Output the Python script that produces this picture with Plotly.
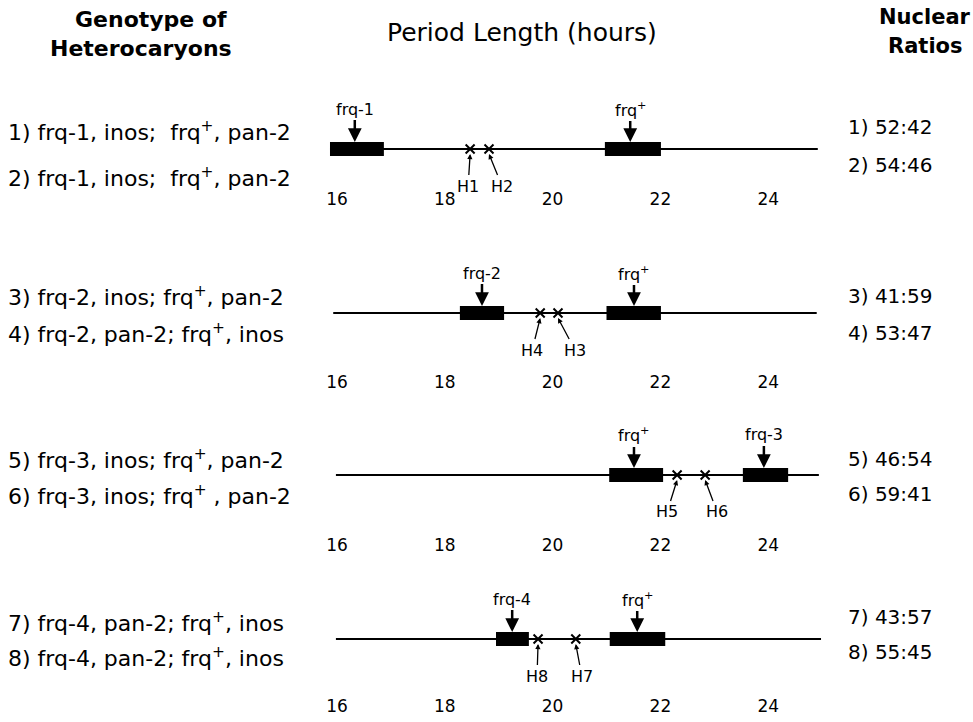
import plotly.graph_objects as go

# ---------------- data ----------------
genotypes = [
    "1) frq-1, inos;  frq<sup>+</sup>, pan-2",
    "2) frq-1, inos;  frq<sup>+</sup>, pan-2",
    "3) frq-2, inos; frq<sup>+</sup>, pan-2",
    "4) frq-2, pan-2; frq<sup>+</sup>, inos",
    "5) frq-3, inos; frq<sup>+</sup>, pan-2",
    "6) frq-3, inos; frq<sup>+</sup> , pan-2",
    "7) frq-4, pan-2; frq<sup>+</sup>, inos",
    "8) frq-4, pan-2; frq<sup>+</sup>, inos",
]
ratios = ["1) 52:42", "2) 54:46", "3) 41:59", "4) 53:47",
          "5) 46:54", "6) 59:41", "7) 43:57", "8) 55:45"]

line_start = [15.87, 15.93, 15.98, 15.98]
line_end = [24.92, 24.90, 24.94, 24.98]

mutant_name = ["frq-1", "frq-2", "frq-3", "frq-4"]
mutant_lo = [15.87, 18.28, 23.53, 18.95]
mutant_hi = [16.87, 19.10, 24.37, 19.56]
mutant_mark = [16.33, 18.69, 23.92, 19.25]

wt_name = "frq<sup>+</sup>"
wt_lo = [20.97, 21.00, 21.05, 21.06]
wt_hi = [22.01, 22.01, 22.05, 22.09]
wt_mark = [21.44, 21.51, 21.51, 21.57]

het_names = [["H1", "H2"], ["H4", "H3"], ["H5", "H6"], ["H8", "H7"]]
het_period = [[18.47, 18.82], [19.77, 20.10], [22.31, 22.83], [19.73, 20.43]]

tick_vals = [16, 18, 20, 22, 24]
tick_text = ["16", "18", "20", "22", "24"]

# ---------------- layout constants (pixels) ----------------
W, H = 973, 722
FONT = "DejaVu Sans"
panel_line_y = [149, 313, 475, 639]
panel_tick_y = [201, 384, 547, 708]
left_label_y = [131, 177, 296, 333, 459, 495, 622, 657]
right_label_y = [127, 165, 296, 333, 459, 494, 617, 652]
het_label_dx = [[-2, 13], [-8, 17], [-10, 12], [-1, 6]]
x_range = [15, 26]
px16, px_per_hr = 337.0, 53.9
x_dom = [(px16 + (x_range[0] - 16) * px_per_hr) / W,
         (px16 + (x_range[1] - 16) * px_per_hr) / W]
ABOVE = 60
BAR_H = 14


def px(x):
    return x / W


def py(y):
    return 1 - y / H


fig = go.Figure()
annotations = []

for i in range(4):
    suffix = "" if i == 0 else str(i + 1)
    xa, ya = "x" + suffix, "y" + suffix
    yc, yt = panel_line_y[i], panel_tick_y[i]
    bottom = yt - 14
    below = bottom - yc
    # main line
    fig.add_trace(go.Scatter(x=[line_start[i], line_end[i]], y=[0, 0], mode="lines",
                             line=dict(color="black", width=2), xaxis=xa, yaxis=ya,
                             hoverinfo="skip", showlegend=False))
    # bars
    fig.add_trace(go.Bar(y=[0, 0], x=[mutant_hi[i] - mutant_lo[i], wt_hi[i] - wt_lo[i]],
                         base=[mutant_lo[i], wt_lo[i]], orientation="h", width=BAR_H,
                         marker=dict(color="black", line=dict(width=0)),
                         xaxis=xa, yaxis=ya, showlegend=False, hoverinfo="skip"))
    # heterocaryon crosses
    fig.add_trace(go.Scatter(x=het_period[i], y=[0, 0], mode="markers",
                             marker=dict(symbol="x-thin", size=9, color="black",
                                         line=dict(color="black", width=2)),
                             xaxis=xa, yaxis=ya, showlegend=False, hoverinfo="skip"))
    # arrows with labels
    for xv, txt in [(mutant_mark[i], mutant_name[i]), (wt_mark[i], wt_name)]:
        annotations.append(dict(x=xv, y=BAR_H / 2, xref=xa, yref=ya, text=txt,
                                showarrow=True, ax=0, ay=-33, arrowhead=2, arrowsize=1.1,
                                arrowwidth=2.5, arrowcolor="black", standoff=0,
                                font=dict(family=FONT, size=16, color="black")))
    for j in range(2):
        annotations.append(dict(x=het_period[i][j], y=-5, xref=xa, yref=ya,
                                text=het_names[i][j], showarrow=True,
                                ax=het_label_dx[i][j], ay=32, arrowhead=2, arrowsize=0.8,
                                arrowwidth=1.3, arrowcolor="black", standoff=0,
                                font=dict(family=FONT, size=16, color="black")))

    axis_x = dict(domain=x_dom, range=x_range, anchor=ya, tickmode="array",
                  tickvals=tick_vals, ticktext=tick_text, showgrid=False, zeroline=False,
                  showline=False, ticks="", tickfont=dict(family=FONT, size=17, color="black"),
                  fixedrange=True)
    axis_y = dict(domain=[py(bottom), py(yc - ABOVE)], range=[-below, ABOVE],
                  showgrid=False, zeroline=False, showline=False, showticklabels=False,
                  ticks="", fixedrange=True)
    fig.layout["xaxis" + suffix] = axis_x
    fig.layout["yaxis" + suffix] = axis_y

# left labels
for k, txt in enumerate(genotypes):
    annotations.append(dict(x=px(6), y=py(left_label_y[k]), xref="paper", yref="paper",
                            text=txt, showarrow=False, xanchor="left", yanchor="middle",
                            font=dict(family=FONT, size=22, color="black")))
# right labels
for k, txt in enumerate(ratios):
    annotations.append(dict(x=px(846), y=py(right_label_y[k]), xref="paper", yref="paper",
                            text=txt, showarrow=False, xanchor="left", yanchor="middle",
                            font=dict(family=FONT, size=20, color="black")))

# headers
for txt, x, y, sz in [("<b>Genotype of</b>", 151, 20, 22), ("<b>Heterocaryons</b>", 141, 48, 22),
                      ("Period Length (hours)", 522, 32, 25), ("<b>Nuclear</b>", 925, 17, 21),
                      ("<b>Ratios</b>", 925, 46, 21)]:
    annotations.append(dict(x=px(x), y=py(y), xref="paper", yref="paper", text=txt,
                            showarrow=False, xanchor="center", yanchor="middle",
                            font=dict(family=FONT, size=sz, color="black")))

fig.update_layout(width=W, height=H, margin=dict(l=0, r=0, t=0, b=0),
                  paper_bgcolor="white", plot_bgcolor="white", barmode="overlay",
                  showlegend=False, annotations=annotations)

fig.write_html("out.html", config={"displayModeBar": False})
